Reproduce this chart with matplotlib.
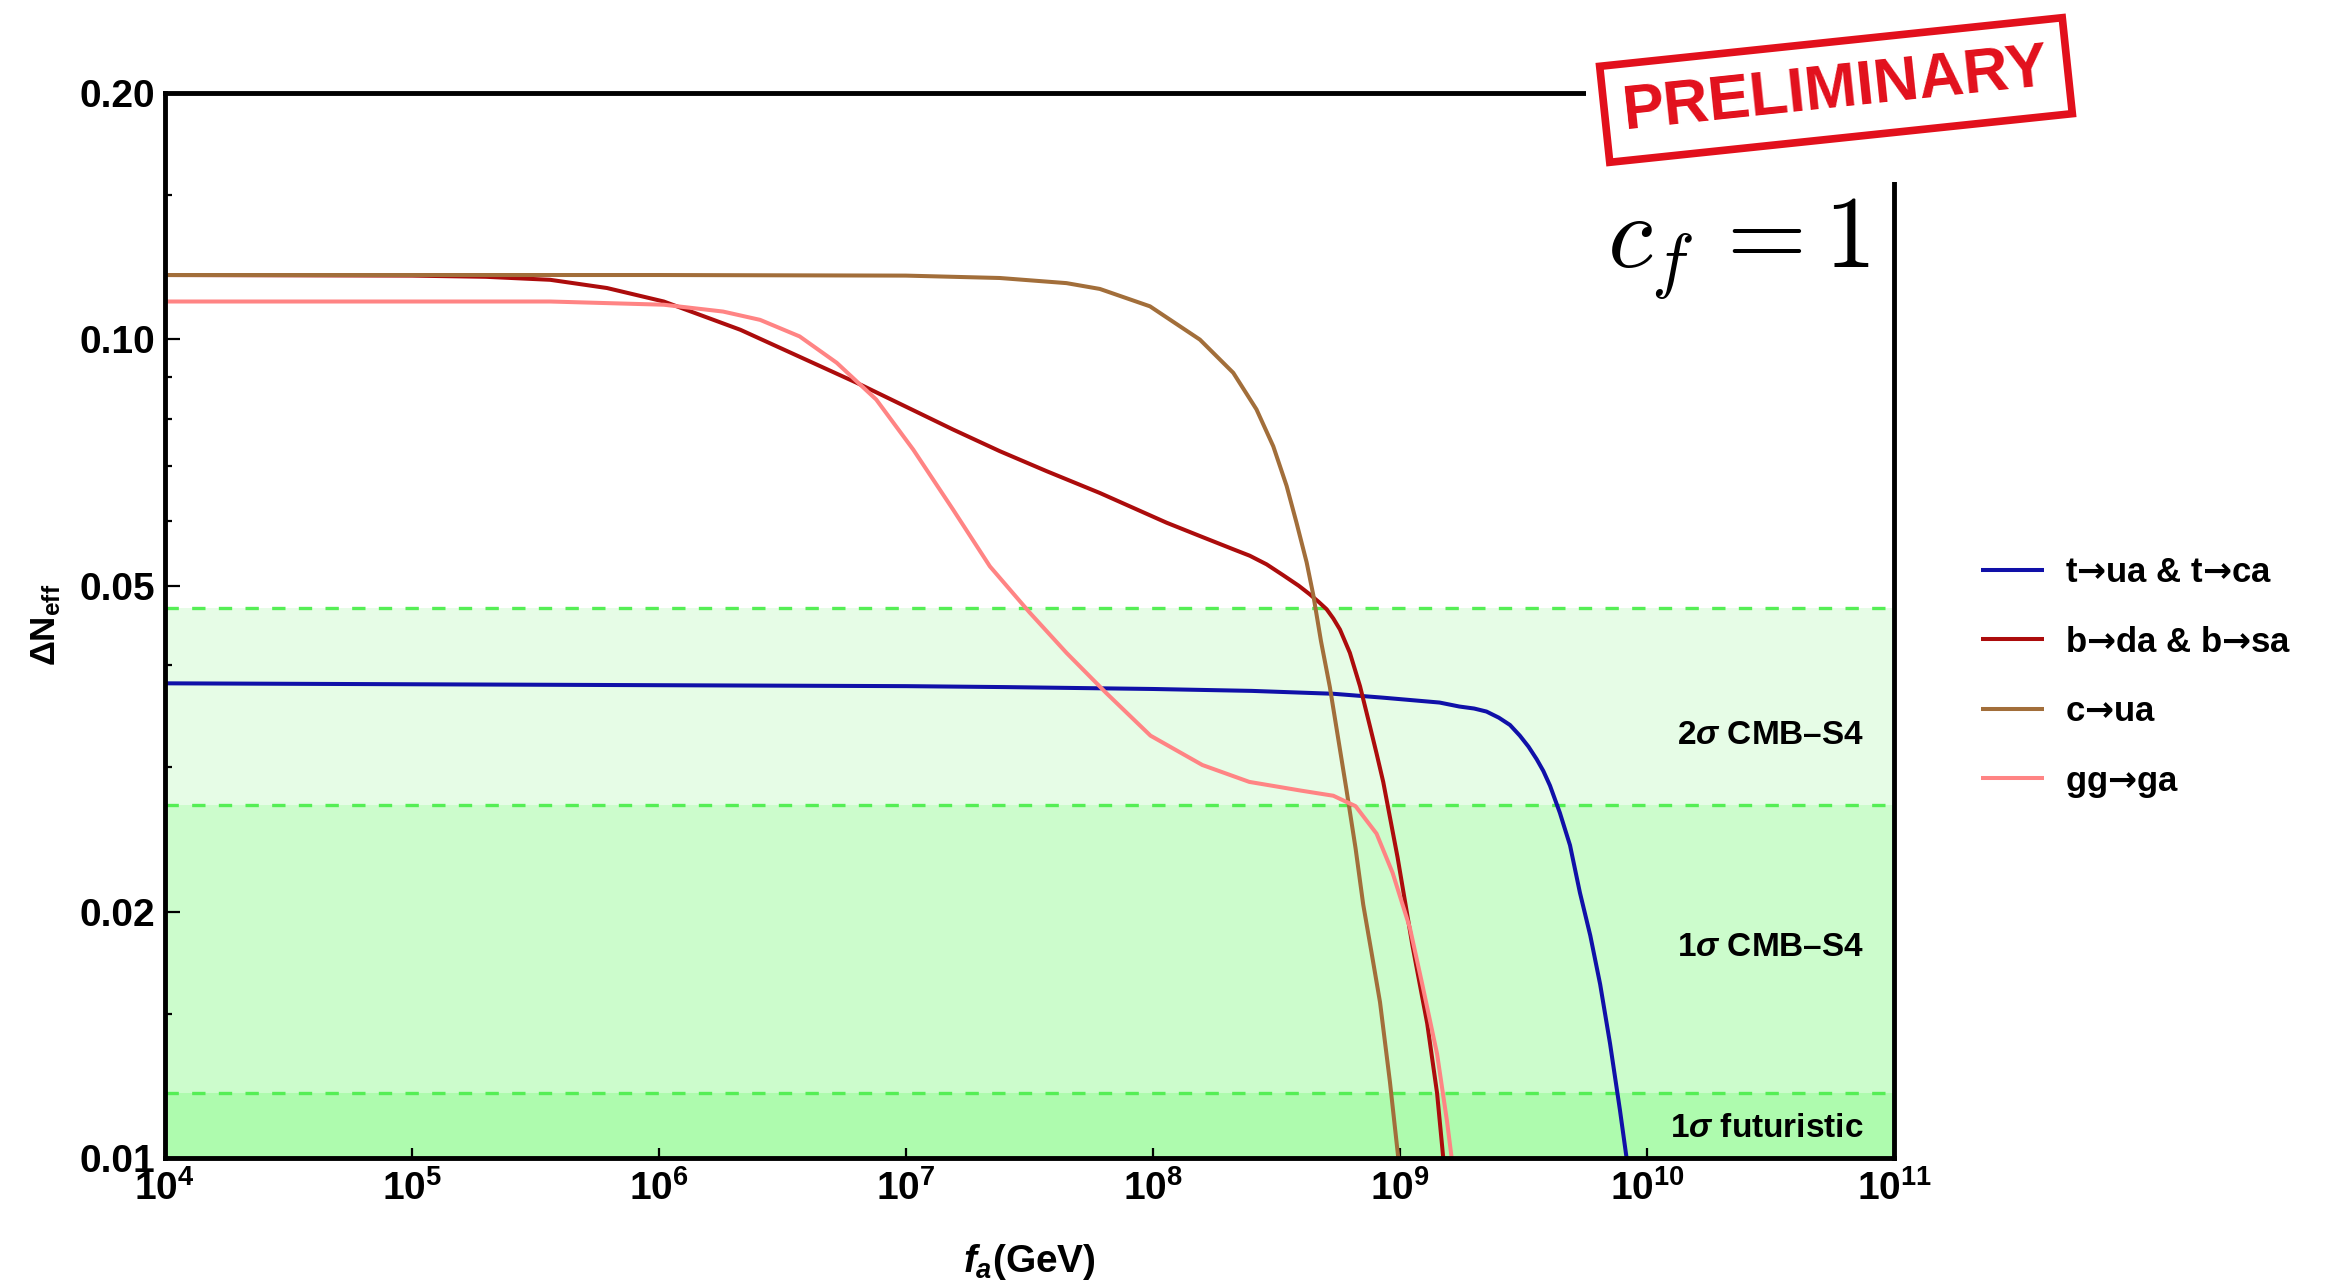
import numpy as np
import matplotlib
matplotlib.use('Agg')
import matplotlib.pyplot as plt
from matplotlib.patches import Rectangle
from matplotlib.transforms import blended_transform_factory

plt.rcParams['font.family'] = ['Liberation Sans', 'DejaVu Sans']
plt.rcParams['font.weight'] = 'bold'
plt.rcParams['mathtext.fontset'] = 'custom'
plt.rcParams['mathtext.rm'] = 'Liberation Sans:bold'
plt.rcParams['mathtext.bf'] = 'Liberation Sans:bold'
plt.rcParams['mathtext.it'] = 'Liberation Sans:italic:bold'
plt.rcParams['mathtext.sf'] = 'DejaVu Sans:bold'   # heavy arrows for the legend

# f_a given as log10(f_a / GeV), Delta N_eff
blue_logx = [4.0, 5.0, 6.0, 7.0, 7.4, 8.0, 8.4, 8.73, 8.93, 9.16, 9.24, 9.30, 9.35, 9.40,
             9.445, 9.485, 9.52, 9.553, 9.58, 9.607, 9.647, 9.688, 9.728, 9.77, 9.81, 9.85,
             9.89, 9.917]
blue_y = [0.0380, 0.0379, 0.0378, 0.0377, 0.0376, 0.0374, 0.0372, 0.0369, 0.0365, 0.0360,
          0.0356, 0.0354, 0.0351, 0.0345, 0.0338, 0.0328, 0.0318, 0.0307, 0.0297, 0.0285,
          0.0264, 0.0241, 0.0211, 0.0187, 0.0163, 0.0138, 0.01145, 0.0100]

red_logx = [4.0, 5.0, 5.3, 5.56, 5.79, 6.02, 6.33, 6.8, 7.19, 7.38, 7.57, 7.785, 8.055,
            8.19, 8.325, 8.392, 8.46, 8.527, 8.59, 8.635, 8.67, 8.703, 8.73, 8.757, 8.797,
            8.838, 8.878, 8.905, 8.932, 8.99, 9.05, 9.11, 9.15, 9.175]
red_y = [0.1198, 0.1196, 0.1192, 0.1182, 0.1155, 0.1112, 0.1027, 0.0885, 0.0776, 0.0730,
         0.0690, 0.0649, 0.0597, 0.0575, 0.0554, 0.0544, 0.0531, 0.0515, 0.0500, 0.0488,
         0.0478, 0.0468, 0.0456, 0.0442, 0.0414, 0.0377, 0.0337, 0.0312, 0.0288, 0.0233,
         0.0182, 0.0146, 0.0120, 0.0100]

brown_logx = [4.0, 5.0, 6.0, 7.0, 7.38, 7.65, 7.785, 7.988, 8.19, 8.325, 8.419, 8.487,
              8.541, 8.581, 8.622, 8.649, 8.68, 8.716, 8.75, 8.783, 8.82, 8.851, 8.885,
              8.919, 8.959, 8.993]
brown_y = [0.1198, 0.1198, 0.1198, 0.1196, 0.1188, 0.1171, 0.1152, 0.1097, 0.0999, 0.0910,
           0.0821, 0.0740, 0.0662, 0.0597, 0.0534, 0.0487, 0.0428, 0.0376, 0.0325, 0.0282,
           0.0239, 0.0204, 0.0178, 0.0155, 0.0124, 0.0100]

pink_logx = [4.0, 5.0, 5.56, 6.02, 6.26, 6.41, 6.57, 6.72, 6.88, 7.03, 7.19, 7.34, 7.5,
             7.65, 7.81, 7.99, 8.2, 8.39, 8.6, 8.73, 8.82, 8.905, 8.97, 9.04, 9.09, 9.15,
             9.19, 9.209]
pink_y = [0.1112, 0.1112, 0.1112, 0.1102, 0.1081, 0.1056, 0.1008, 0.0936, 0.0844, 0.0733,
          0.0620, 0.0528, 0.0464, 0.0414, 0.0370, 0.0328, 0.0302, 0.0288, 0.0281, 0.0277,
          0.0269, 0.0249, 0.0223, 0.0191, 0.0163, 0.0134, 0.0111, 0.0100]

series_labels = ['t$\\mathsf{→}$ua & t$\\mathsf{→}$ca', 'b$\\mathsf{→}$da & b$\\mathsf{→}$sa',
                 'c$\\mathsf{→}$ua', 'gg$\\mathsf{→}$ga']
series_colors = ['#1010A8', '#AC0C0C', '#A26E3A', '#FF8484']

# CMB-S4 sensitivity bands
band_edges = [0.01, 0.012, 0.027, 0.047]
band_colors = ['#AEFBAE', '#CCFCCC', '#E6FCE6']
band_labels = ['1$\\sigma$ futuristic', '1$\\sigma$ CMB–S4', '2$\\sigma$ CMB–S4']
band_label_y = [0.01088, 0.0181, 0.0328]

xtick_exps = [4, 5, 6, 7, 8, 9, 10, 11]
ytick_vals = [0.01, 0.02, 0.05, 0.10, 0.20]
ytick_labels = ['0.01', '0.02', '0.05', '0.10', '0.20']
yminor_vals = [0.015, 0.03, 0.04, 0.06, 0.07, 0.08, 0.09, 0.15]

W, H = 2346, 1285
fig = plt.figure(figsize=(W / 100, H / 100), dpi=100)
ax = fig.add_axes([0.0702, 0.0988, 0.7372, 0.8290])
ax.set_xscale('log')
ax.set_yscale('log')
ax.set_xlim(1e4, 1e11)
ax.set_ylim(0.01, 0.2)

for i in range(len(band_colors)):
    ax.axhspan(band_edges[i], band_edges[i + 1], color=band_colors[i], lw=0, zorder=0.5)
for v in band_edges[1:]:
    ax.axhline(v, color='#55EE55', lw=2.4, dashes=(4, 4), zorder=1)

trans = blended_transform_factory(ax.transAxes, ax.transData)
for lab, yv in zip(band_labels, band_label_y):
    ax.text(0.9825, yv, lab, transform=trans, ha='right', va='center',
            fontsize=24, fontweight='bold', zorder=3)

all_x = [blue_logx, red_logx, brown_logx, pink_logx]
all_y = [blue_y, red_y, brown_y, pink_y]
lines = []
for lx, yy, c, lab in zip(all_x, all_y, series_colors, series_labels):
    ln, = ax.plot(10.0 ** np.array(lx), yy, color=c, lw=2.9, label=lab, zorder=2,
                  solid_capstyle='butt', solid_joinstyle='round')
    lines.append(ln)

# axes frame and ticks
for sp in ax.spines.values():
    sp.set_linewidth(3.5)
ax.set_xticks([10.0 ** e for e in xtick_exps])
ax.set_xticklabels([r'$\mathbf{10^{%d}}$' % e for e in xtick_exps])
ax.xaxis.set_minor_locator(matplotlib.ticker.NullLocator())
ax.set_yticks(ytick_vals)
ax.set_yticklabels(ytick_labels)
ax.set_yticks(yminor_vals, minor=True)
ax.yaxis.set_minor_formatter(matplotlib.ticker.NullFormatter())
ax.tick_params(axis='both', which='both', direction='in', width=1.6, top=False, right=False)
ax.tick_params(axis='y', which='major', length=11, labelsize=28, pad=7)
ax.tick_params(axis='y', which='minor', length=5)
ax.tick_params(axis='x', which='major', length=7, labelsize=28, pad=9)

ax.set_xlabel(r'$f_a$(GeV)', fontsize=28, fontweight='bold', labelpad=24)
ax.set_ylabel(r'$\mathbf{\Delta N_{eff}}$', fontsize=25, labelpad=12)

fig.legend(handles=lines, loc='center left', bbox_to_anchor=(0.8445, 0.4725),
           frameon=False, handlelength=1.8, handletextpad=0.6,
           labelspacing=1.05, borderpad=0, borderaxespad=0,
           prop={'weight': 'bold', 'size': 25})

# PRELIMINARY stamp over the top-right corner of the frame
fig.add_artist(Rectangle((1586 / W, 1 - 182 / H), 520 / W, 182 / H,
                         transform=fig.transFigure, facecolor='white',
                         edgecolor='none', zorder=5))
fig.text(1836 / W, 1 - 90 / H, 'PRELIMINARY', color='#E2101C', fontsize=45,
         fontweight='bold', rotation=6, rotation_mode='anchor', ha='center', va='center',
         zorder=6,
         bbox=dict(boxstyle='square,pad=0.3', facecolor='white', edgecolor='#E2101C',
                   linewidth=5.5))

fig.text(1869 / W, 1 - 268 / H, r'$c_f\,=1$', fontsize=74, math_fontfamily='cm',
         ha='right', va='baseline', color='black', zorder=6)

fig.savefig('out.png', dpi=100)
